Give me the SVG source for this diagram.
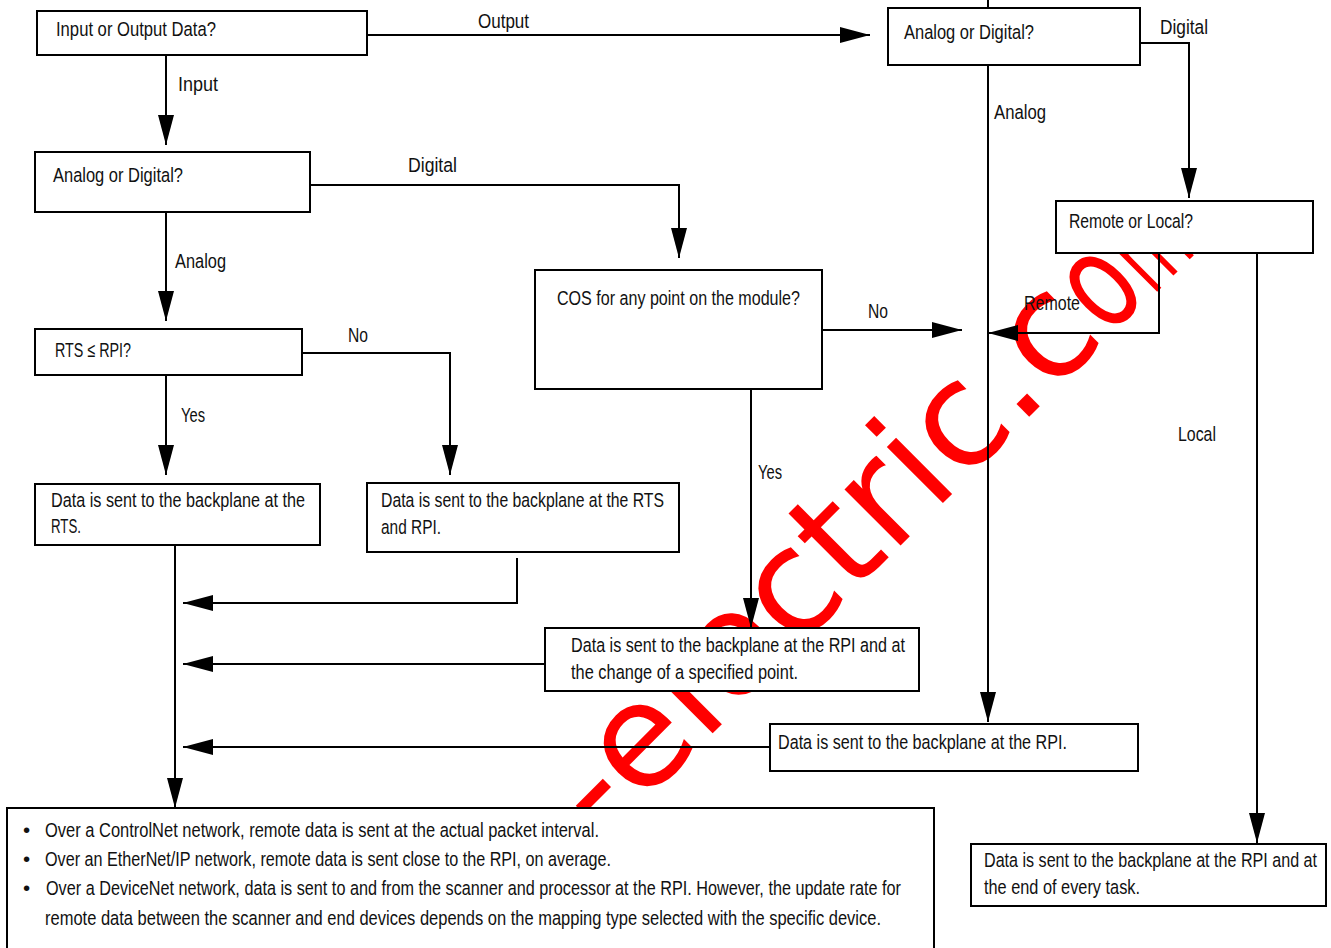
<svg xmlns="http://www.w3.org/2000/svg" width="1331" height="948" viewBox="0 0 1331 948">
<defs>
<style>
.bx{fill:#fff;stroke:#000;stroke-width:2}
.t{font-family:"Liberation Sans Narrow","Liberation Sans",Arial,sans-serif;font-stretch:condensed;font-size:20.5px;fill:#111}
.ln{fill:none;stroke:#000;stroke-width:2}
.wm{font-family:"DejaVu Sans",Verdana,sans-serif;font-size:145px;fill:#ff0000}
</style>
<marker id="ah" markerUnits="userSpaceOnUse" markerWidth="30" markerHeight="16" refX="30" refY="8" orient="auto">
<path d="M0,0 L30,8 L0,16 z" fill="#000"/>
</marker>
</defs>
<rect width="1331" height="948" fill="#fff"/>
<g id="watermark">
<text class="wm" transform="translate(603,843) rotate(-45)">-electric.c</text>
<text class="wm" transform="translate(1108,337) rotate(-45) scale(0.72,1)" style="font-size:135px">o</text>
<text class="wm" transform="translate(1153,296) rotate(-45) scale(0.5,1)" style="font-size:130px">m</text>
</g>
<g id="connectors">
<path class="ln" d="M367,35 H870" marker-end="url(#ah)"/>
<path class="ln" d="M166,55 V145" marker-end="url(#ah)"/>
<path class="ln" d="M1140,43 H1189 V198" marker-end="url(#ah)"/>
<path class="ln" d="M988,0 V722" marker-end="url(#ah)"/>
<path class="ln" d="M310,185 H679 V258" marker-end="url(#ah)"/>
<path class="ln" d="M166,212 V321" marker-end="url(#ah)"/>
<path class="ln" d="M302,353 H450 V475" marker-end="url(#ah)"/>
<path class="ln" d="M166,375 V475" marker-end="url(#ah)"/>
<path class="ln" d="M822,330 H962" marker-end="url(#ah)"/>
<path class="ln" d="M1159,253 V333 H988" marker-end="url(#ah)"/>
<path class="ln" d="M751,389 V628" marker-end="url(#ah)"/>
<path class="ln" d="M1257,253 V843" marker-end="url(#ah)"/>
<path class="ln" d="M175,545 V808" marker-end="url(#ah)"/>
<path class="ln" d="M517,558 V603 H183" marker-end="url(#ah)"/>
<path class="ln" d="M545,664 H183" marker-end="url(#ah)"/>
<path class="ln" d="M770,747 H183" marker-end="url(#ah)"/>
<text class="t" x="478" y="28" textLength="51" lengthAdjust="spacingAndGlyphs">Output</text>
<text class="t" x="178" y="91" textLength="40" lengthAdjust="spacingAndGlyphs">Input</text>
<text class="t" x="1160" y="34" textLength="48" lengthAdjust="spacingAndGlyphs">Digital</text>
<text class="t" x="994" y="119" textLength="52" lengthAdjust="spacingAndGlyphs">Analog</text>
<text class="t" x="408" y="172" textLength="49" lengthAdjust="spacingAndGlyphs">Digital</text>
<text class="t" x="175" y="268" textLength="51" lengthAdjust="spacingAndGlyphs">Analog</text>
<text class="t" x="348" y="342" textLength="20" lengthAdjust="spacingAndGlyphs">No</text>
<text class="t" x="181" y="422" textLength="24" lengthAdjust="spacingAndGlyphs">Yes</text>
<text class="t" x="868" y="318" textLength="20" lengthAdjust="spacingAndGlyphs">No</text>
<text class="t" x="1024" y="310" textLength="56" lengthAdjust="spacingAndGlyphs">Remote</text>
<text class="t" x="758" y="479" textLength="24" lengthAdjust="spacingAndGlyphs">Yes</text>
<text class="t" x="1178" y="441" textLength="38" lengthAdjust="spacingAndGlyphs">Local</text>
</g>
<g id="n-io">
<rect class="bx" x="37" y="11" width="330" height="44"/>
<text class="t" x="56" y="36" textLength="160" lengthAdjust="spacingAndGlyphs">Input or Output Data?</text>
</g>
<g id="n-ad-out">
<rect class="bx" x="888" y="8" width="252" height="57"/>
<text class="t" x="904" y="39" textLength="130" lengthAdjust="spacingAndGlyphs">Analog or Digital?</text>
</g>
<g id="n-ad-in">
<rect class="bx" x="35" y="152" width="275" height="60"/>
<text class="t" x="53" y="182" textLength="130" lengthAdjust="spacingAndGlyphs">Analog or Digital?</text>
</g>
<g id="n-rl">
<rect class="bx" x="1056" y="201" width="257" height="52"/>
<text class="t" x="1069" y="228" textLength="124" lengthAdjust="spacingAndGlyphs">Remote or Local?</text>
</g>
<g id="n-cos">
<rect class="bx" x="535" y="270" width="287" height="119"/>
<text class="t" x="557" y="305" textLength="243" lengthAdjust="spacingAndGlyphs">COS for any point on the module?</text>
</g>
<g id="n-rts">
<rect class="bx" x="35" y="329" width="267" height="46"/>
<text class="t" x="55" y="357" textLength="76" lengthAdjust="spacingAndGlyphs">RTS ≤ RPI?</text>
</g>
<g id="n-rts-out">
<rect class="bx" x="35" y="484" width="285" height="61"/>
<text class="t" x="51" y="507" textLength="254" lengthAdjust="spacingAndGlyphs">Data is sent to the backplane at the</text>
<text class="t" x="51" y="533" textLength="30" lengthAdjust="spacingAndGlyphs">RTS.</text>
</g>
<g id="n-rtsrpi-out">
<rect class="bx" x="367" y="483" width="312" height="69"/>
<text class="t" x="381" y="507" textLength="283" lengthAdjust="spacingAndGlyphs">Data is sent to the backplane at the RTS</text>
<text class="t" x="381" y="534" textLength="60" lengthAdjust="spacingAndGlyphs">and RPI.</text>
</g>
<g id="n-cos-out">
<rect class="bx" x="545" y="628" width="374" height="63"/>
<text class="t" x="571" y="652" textLength="334" lengthAdjust="spacingAndGlyphs">Data is sent to the backplane at the RPI and at</text>
<text class="t" x="571" y="679" textLength="227" lengthAdjust="spacingAndGlyphs">the change of a specified point.</text>
</g>
<g id="n-rpi-out">
<rect class="bx" x="770" y="724" width="368" height="47"/>
<text class="t" x="778" y="749" textLength="289" lengthAdjust="spacingAndGlyphs">Data is sent to the backplane at the RPI.</text>
</g>
<g id="n-local-out">
<rect class="bx" x="971" y="844" width="355" height="62"/>
<text class="t" x="984" y="867" textLength="333" lengthAdjust="spacingAndGlyphs">Data is sent to the backplane at the RPI and at</text>
<text class="t" x="984" y="894" textLength="156" lengthAdjust="spacingAndGlyphs">the end of every task.</text>
</g>
<g id="n-notes">
<rect class="bx" x="7" y="808" width="927" height="160"/>
<text class="t" x="23" y="837">•</text>
<text class="t" x="45" y="837" textLength="554" lengthAdjust="spacingAndGlyphs">Over a ControlNet network, remote data is sent at the actual packet interval.</text>
<text class="t" x="23" y="866">•</text>
<text class="t" x="45" y="866" textLength="566" lengthAdjust="spacingAndGlyphs">Over an EtherNet/IP network, remote data is sent close to the RPI, on average.</text>
<text class="t" x="23" y="895">•</text>
<text class="t" x="46" y="895" textLength="855" lengthAdjust="spacingAndGlyphs">Over a DeviceNet network, data is sent to and from the scanner and processor at the RPI. However, the update rate for</text>
<text class="t" x="45" y="925" textLength="836" lengthAdjust="spacingAndGlyphs">remote data between the scanner and end devices depends on the mapping type selected with the specific device.</text>
</g>
</svg>
